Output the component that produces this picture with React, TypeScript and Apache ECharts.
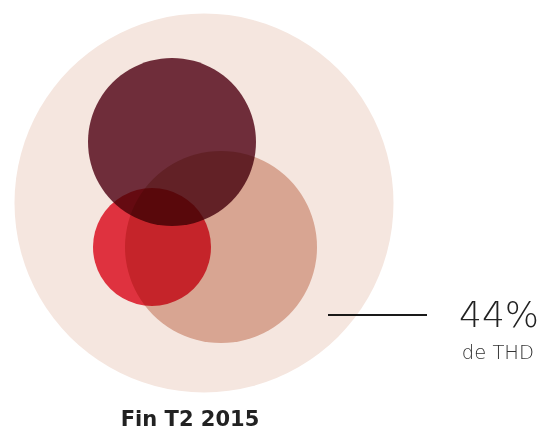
import React, { useEffect, useRef } from "react";
import * as echarts from "echarts";

// Circles (centre x, centre y, diameter) in chart units (0..542 x 0..430)
const circleNames = ["Total", "Groupe A", "Groupe B", "Groupe C"];
const centerX = [204, 221, 152, 172];
const centerY = [203, 247, 247, 142];
const diameters = [379, 192, 118, 168];
// multiply-blend colours
const circleColors = ["#f5e6df", "#e1b7a7", "#e93748", "#733242"];

const shareValue = "44%";
const shareLabel = "de THD";
const periodLabel = "Fin T2 2015";

export default function App() {
  const ref = useRef<HTMLDivElement>(null);
  useEffect(() => {
    if (!ref.current) return;
    const chart = echarts.init(ref.current, undefined, { renderer: "svg" });
    const data = circleNames.map((n, i) => ({
      name: n,
      value: [centerX[i], centerY[i]],
      symbolSize: diameters[i],
      itemStyle: { color: circleColors[i], opacity: 1 },
    }));
    chart.setOption({
      animation: false,
      grid: { left: 0, right: 0, top: 0, bottom: 0 },
      xAxis: { type: "value", min: 0, max: 542, show: false },
      yAxis: { type: "value", min: 0, max: 430, inverse: true, show: false },
      series: [
        {
          type: "scatter",
          symbol: "circle",
          data,
          itemStyle: { opacity: 1 },
          emphasis: { disabled: true },
          silent: true,
        },
      ],
      graphic: [
        {
          type: "line",
          shape: { x1: 328, y1: 315, x2: 427, y2: 315 },
          style: { stroke: "#1a1a1a", lineWidth: 2 },
        },
        {
          type: "text",
          x: 539,
          y: 314,
          style: {
            text: shareValue,
            fontFamily: "DejaVu Sans",
            fontWeight: 200,
            fontSize: 36,
            fill: "#222222",
            align: "right",
            verticalAlign: "middle",
          },
        },
        {
          type: "text",
          x: 534,
          y: 352,
          style: {
            text: shareLabel,
            fontFamily: "DejaVu Sans",
            fontWeight: 200,
            fontSize: 19.5,
            fill: "#333333",
            align: "right",
            verticalAlign: "middle",
          },
        },
        {
          type: "text",
          x: 190,
          y: 419,
          style: {
            text: periodLabel,
            fontFamily: "DejaVu Sans",
            fontWeight: "bold",
            fontSize: 21,
            fill: "#222222",
            align: "center",
            verticalAlign: "middle",
          },
        },
      ],
    });
    return () => chart.dispose();
  }, []);
  return (
    <>
      <style>{`#venn svg path { mix-blend-mode: multiply; }`}</style>
      <div
        id="venn"
        ref={ref}
        style={{ position: "fixed", left: 0, top: 0, width: 542, height: 430, background: "#ffffff" }}
      />
    </>
  );
}
